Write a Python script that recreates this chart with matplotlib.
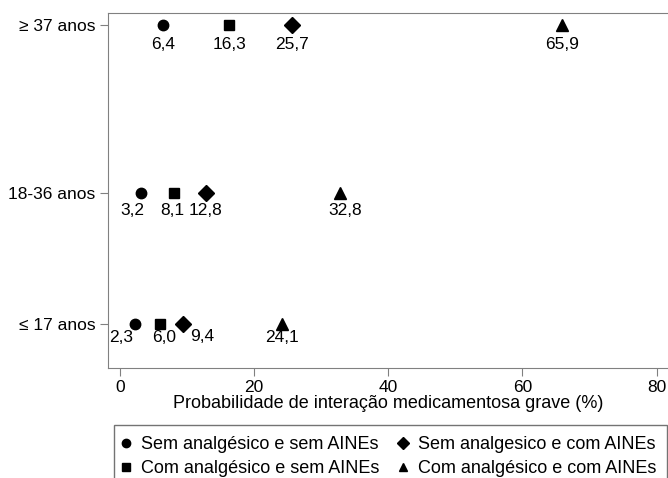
import matplotlib.pyplot as plt
from matplotlib.lines import Line2D

plt.rcParams['font.family'] = ['Liberation Sans', 'DejaVu Sans']

# faixas etarias (de baixo para cima) e posicao no eixo y
faixas = ['≤ 17 anos', '18-36 anos', '≥ 37 anos']
pos_y = [1, 2, 3.28]

# probabilidade (%) por grupo, na ordem das faixas
sem_sem = [2.3, 3.2, 6.4]
com_sem = [6.0, 8.1, 16.3]
sem_com = [9.4, 12.8, 25.7]
com_com = [24.1, 32.8, 65.9]

grupos = ['Sem analgésico e sem AINEs', 'Com analgésico e sem AINEs',
          'Sem analgesico e com AINEs', 'Com analgésico e com AINEs']
series = [sem_sem, com_sem, sem_com, com_com]
marcadores = ['o', 's', 'D', '^']
tamanhos = [7.5, 7, 8, 8.5]

# deslocamento dos rotulos (pontos) por serie e faixa
desloc = [
    [(-10, -10), (-6.5, -13), (0, -14.5)],
    [(3, -10), (-1.5, -13), (0, -14.5)],
    [(14, -9), (0, -13), (0, -14.5)],
    [(0, -10), (4, -13), (0, -14.5)],
]

fig = plt.figure(figsize=(6.68, 4.78), dpi=100)
ax = fig.add_axes([108/668, 1-368/478, 1-108/668, (368-13)/478])

for vals, m, ms, offs in zip(series, marcadores, tamanhos, desloc):
    ax.plot(vals, pos_y, linestyle='none', marker=m, markersize=ms, color='black')
    for v, y, o in zip(vals, pos_y, offs):
        ax.annotate(f'{v:.1f}'.replace('.', ','), (v, y), xytext=o,
                    textcoords='offset points', ha='center', va='center', fontsize=12.5)

ax.set_xlim(-1.79, 81.7)
ax.set_ylim(0.664, 3.37)
ax.set_xticks([0, 20, 40, 60, 80])
ax.set_yticks(pos_y)
ax.set_yticklabels(faixas)
ax.tick_params(axis='both', labelsize=12.5, length=6, color='#808080', pad=3)
ax.spines['right'].set_visible(False)
for s in ['left', 'top', 'bottom']:
    ax.spines[s].set_color('#808080')
ax.set_xlabel('Probabilidade de interação medicamentosa grave (%)', fontsize=13)
ax.xaxis.set_label_coords(0.5, -0.1)
ax.xaxis.label.set_va('center')

handles = [Line2D([], [], linestyle='none', marker=m, markersize=6, color='black')
           for m in marcadores]
leg = fig.legend(handles, grupos, ncol=2, loc='upper left',
                 bbox_to_anchor=(114/668, 1-425/478), fontsize=13,
                 frameon=True, fancybox=False, edgecolor='#505050',
                 handlelength=0.12, handletextpad=0.76, columnspacing=1.25,
                 labelspacing=0.37, borderpad=0.62, borderaxespad=0)
leg.get_frame().set_linewidth(1.0)

fig.savefig('out.png', dpi=100)
